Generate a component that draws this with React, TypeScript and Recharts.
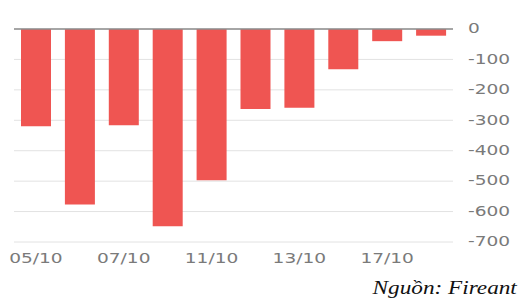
import { BarChart, Bar, XAxis, YAxis, CartesianGrid, ReferenceLine } from "recharts";

const days = ["05/10", "06/10", "07/10", "10/10", "11/10", "12/10", "13/10", "14/10", "17/10", "18/10"];
const netValues = [-320, -577, -316, -648, -497, -263, -259, -132, -40, -22];
const yTicks = [0, -100, -200, -300, -400, -500, -600, -700];

const data = days.map((day, i) => ({ day, value: netValues[i] }));

const tickFont = "'DejaVu Sans', sans-serif";

const XTick = ({ x, y, payload }: any) => (
  <g transform={`translate(${x},${y})`}>
    <text
      transform="scale(1.28,1)"
      textAnchor="middle"
      dy="0.71em"
      fill="#7a7a7a"
      fontSize={14.5}
      fontFamily={tickFont}
    >
      {payload.value}
    </text>
  </g>
);

const YTick = ({ x, y, payload }: any) => (
  <g transform={`translate(${x},${y})`}>
    <text
      transform="scale(1.28,1)"
      textAnchor="start"
      dy="0.3em"
      fill="#7a7a7a"
      fontSize={14.5}
      fontFamily={tickFont}
    >
      {payload.value}
    </text>
  </g>
);

const App = () => {
  return (
    <div style={{ position: "absolute", left: 0, top: 0, width: 523, height: 304, background: "#fff" }}>
      <BarChart
        width={523}
        height={304}
        data={data}
        margin={{ top: 29, right: 0, left: 14, bottom: 32 }}
      >
        <CartesianGrid vertical={false} stroke="#e2e2e2" />
        <XAxis
          dataKey="day"
          interval={1}
          axisLine={false}
          tickLine={false}
          tickMargin={5}
          height={30}
          tick={<XTick />}
        />
        <YAxis
          orientation="right"
          domain={[-700, 0]}
          ticks={yTicks}
          axisLine={false}
          tickLine={false}
          tickMargin={9}
          width={70}
          tick={<YTick />}
        />
        <Bar dataKey="value" fill="#ef5552" barSize={30} isAnimationActive={false} />
        <ReferenceLine y={0} stroke="#8c8c8c" strokeWidth={1.5} />
      </BarChart>
      <div
        style={{
          position: "absolute",
          right: 6,
          top: 278,
          fontFamily: "'Liberation Serif', serif",
          fontStyle: "italic",
          fontSize: 18,
          color: "#111",
          transform: "scaleX(1.29)",
          transformOrigin: "right center",
          whiteSpace: "nowrap",
        }}
      >
        Nguồn: Fireant
      </div>
    </div>
  );
};

export default App;
